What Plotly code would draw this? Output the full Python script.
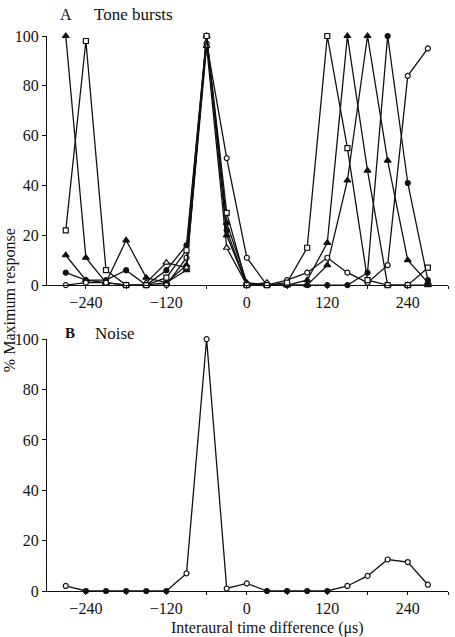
import plotly.graph_objects as go
from plotly.subplots import make_subplots

# ---------------- data ----------------
itd = [-270, -240, -210, -180, -150, -120, -90, -60, -30, 0, 30, 60, 90, 120, 150, 180, 210, 240, 270]

tone_open_square = [22, 98, 6, 0, 0, 3, 14, 100, 29, 0, 0, 1, 15, 100, 55, 2, 0, 0, 7]
tone_tri_a = [100, 11, 1, 18, 3, 1, 6, 100, 25, 1, 0, 0, 2, 17, 100, 46, 0, 0, 0]
tone_tri_b = [12, 2, 1, 0, 0, 1, 8, 100, 20, 0, 0, 0, 0, 8, 42, 100, 50, 10, 1]
tone_filled_circle = [5, 2, 2, 6, 0, 6, 16, 100, 22, 0, 0, 0, 0, 0, 0, 5, 100, 41, 2]
tone_open_circle = [0, 1, 1, 0, 0, 0, 11, 97, 51, 11, 0, 2, 5, 11, 5, 1, 8, 84, 95]

itd_short = [-150, -120, -90, -60, -30, 0, 30]
tone_open_tri = [1, 9, 7, 96, 15, 0, 1]

noise = [2, 0, 0, 0, 0, 0, 7, 100, 1, 3, 0, 0, 0, 0, 2, 6, 12.5, 11.5, 2.5]

x_tickvals = [-300, -240, -180, -120, -60, 0, 60, 120, 180, 240, 300]
x_ticktext = ["", "\u2212240", "", "\u2212120", "", "0", "", "120", "", "240", ""]
y_tickvals = [0, 20, 40, 60, 80, 100]

# ---------------- layout helpers ----------------
W, H = 455, 637
L, R = 47, 448          # plot area x pixels
TOP, BOT = 36, 590.7    # plot area y pixels


def xp(px):
    return (px - L) / (R - L)


def yp(py):
    return (BOT - py) / (BOT - TOP)


FONT = "Liberation Serif"
BLACK = "#111111"

fig = make_subplots(rows=2, cols=1)

line_style = dict(color=BLACK, width=1.3)

series = [
    (itd, tone_tri_a, "triangle-up", BLACK, 6),
    (itd, tone_tri_b, "triangle-up", BLACK, 6),
    (itd, tone_filled_circle, "circle", BLACK, 5),
    (itd, tone_open_circle, "circle", "white", 5),
    (itd_short, tone_open_tri, "triangle-up", "white", 6),
    (itd, tone_open_square, "square", "white", 5),
]
for xs, ys, sym, fill, sz in series:
    fig.add_trace(go.Scatter(
        x=xs, y=ys, mode="lines+markers", line=line_style,
        marker=dict(symbol=sym, size=sz, color=fill, line=dict(color=BLACK, width=1.2)),
        cliponaxis=False, showlegend=False), row=1, col=1)

noise_fill = ["white" if v > 0 else BLACK for v in noise]
fig.add_trace(go.Scatter(
    x=itd, y=noise, mode="lines+markers", line=line_style,
    marker=dict(symbol="circle", size=5, color=noise_fill, line=dict(color=BLACK, width=1.2)),
    cliponaxis=False, showlegend=False), row=2, col=1)

axis_common = dict(showline=True, linecolor=BLACK, linewidth=1.3, showgrid=False, zeroline=False,
                   ticks="outside", ticklen=4, tickcolor=BLACK, tickwidth=1.2,
                   tickfont=dict(family=FONT, size=16, color=BLACK))

fig.update_xaxes(range=[-298, 300], tickvals=x_tickvals, ticktext=x_ticktext, ticklen=3, **{k: v for k, v in axis_common.items() if k != "ticklen"})
fig.update_yaxes(range=[0, 100], tickvals=y_tickvals, **axis_common)

fig.update_layout(
    width=W, height=H,
    margin=dict(l=L, r=W - R, t=TOP, b=H - BOT),
    paper_bgcolor="white", plot_bgcolor="white",
    xaxis=dict(domain=[0, 1], anchor="y"),
    xaxis2=dict(domain=[0, 1], anchor="y2"),
    yaxis=dict(domain=[yp(285), 1]),
    yaxis2=dict(domain=[0, yp(339)]),
    font=dict(family=FONT, color=BLACK),
)

ann = []
ann.append(dict(text="A", x=xp(58), y=yp(15), xanchor="left", yanchor="middle", size=16))
ann.append(dict(text="Tone bursts", x=xp(92), y=yp(15), xanchor="left", yanchor="middle", size=17))
ann.append(dict(text="<b>B</b>", x=xp(63), y=yp(333), xanchor="left", yanchor="middle", size=15))
ann.append(dict(text="Noise", x=xp(93), y=yp(333), xanchor="left", yanchor="middle", size=17))
ann.append(dict(text="Interaural time difference (\u03bcs)", x=xp(267), y=yp(628), xanchor="center",
                yanchor="middle", size=16))
for a in ann:
    fig.add_annotation(text=a["text"], x=a["x"], y=a["y"], xref="paper", yref="paper",
                       xanchor=a["xanchor"], yanchor=a["yanchor"], showarrow=False,
                       font=dict(family=FONT, size=a["size"], color=BLACK))

fig.add_annotation(text="% Maximum response", x=xp(10), y=yp(300), xref="paper", yref="paper",
                   xanchor="center", yanchor="middle", textangle=-90, showarrow=False,
                   font=dict(family=FONT, size=16, color=BLACK))

fig.write_html("out.html")
